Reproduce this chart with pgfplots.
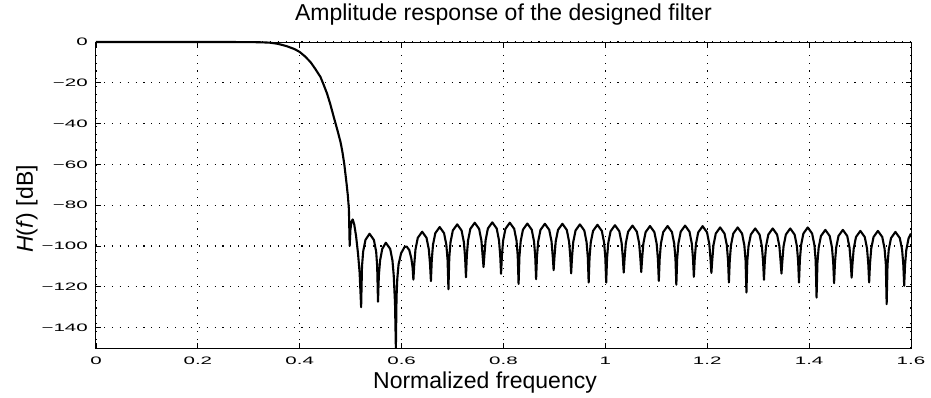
\documentclass[border=0pt]{standalone}
\usepackage{fontspec}
\setmainfont{Liberation Sans}
\newfontfamily\tickfont[FakeStretch=1.9]{Liberation Sans}
\usepackage{pgfplots}
\pgfplotsset{compat=1.18}
\begin{document}
\begin{tikzpicture}
\useasboundingbox (-96pt,-49pt) rectangle (835pt,348pt);
\begin{axis}[
  at={(0pt,0pt)}, anchor=south west,
  scale only axis, width=815pt, height=306pt,
  xmin=0, xmax=1.6, ymin=-150, ymax=0,
  clip=false,
  xtick={0,0.2,0.4,0.6,0.8,1,1.2,1.4,1.6},
  xticklabels={0,0.2,0.4,0.6,0.8,1,1.2,1.4,1.6},
  ytick={-140,-120,-100,-80,-60,-40,-20,0},
  yticklabels={−140,−120,−100,−80,−60,−40,−20,0},
  tick align=inside, major tick length=5pt,
  tick style={black, line width=0.8pt},
  axis line style={line width=1pt},
  grid=major,
  major grid style={black, line width=1.1pt, dash pattern=on 1.1pt off 6.8pt},
  xticklabel style={font={\tickfont\fontsize{10.8}{12}\selectfont}, anchor=base, inner sep=0pt, yshift=-16pt},
  yticklabel style={font={\tickfont\fontsize{10.8}{12}\selectfont}, anchor=east, inner sep=0pt, xshift=-8pt},
]
\addplot[black, line width=2.1pt, line join=round, mark=none] coordinates {
(0,0) (0.05,0) (0.1,0) (0.15,0) (0.2,0) (0.25,0) (0.3,-0.05) (0.32,-0.12) (0.34,-0.3) (0.355,-0.8) (0.365,-1.4) (0.375,-2.1) (0.39,-3.5) (0.40,-4.9) (0.41,-7.0) (0.421,-9.8) (0.43,-13.0) (0.4406,-17.1) (0.447,-21.0) (0.4536,-25.3) (0.46,-30.5) (0.4667,-36.7) (0.4737,-43.0) (0.48,-49.0) (0.4835,-53.5) (0.4874,-59.8) (0.492,-69.6) (0.4945,-75.5) (0.4965,-82) (0.498,-100) (0.4995,-92) (0.5015,-88) (0.504,-87) (0.507,-89.5) (0.5105,-95) (0.5145,-104) (0.5175,-113)
(0.5205,-130) (0.5222,-110) (0.5245,-102.7) (0.529,-97) (0.537,-94) (0.5455,-97) (0.55,-102.7) (0.552,-110)
(0.5536,-127.3) (0.5553,-114.5) (0.5577,-107.1) (0.562,-101.4) (0.569,-98.4) (0.5775,-101.4) (0.582,-107.1) (0.5845,-114.5) (0.5870,-128)
(0.5887,-150) (0.5900,-125) (0.5915,-116) (0.5940,-109) (0.5990,-103.5) (0.6060,-100.4) (0.6100,-100.3) (0.6150,-102) (0.6190,-106) (0.6215,-110.5)
(0.6231,-116.5) (0.6248,-109.1) (0.6272,-101.7) (0.6317,-96.0) (0.6403,-93.0) (0.6489,-96.0) (0.6534,-101.7) (0.6558,-109.1)
(0.6575,-117.2) (0.6592,-106.8) (0.6616,-99.4) (0.6661,-93.7) (0.6747,-90.7) (0.6833,-93.7) (0.6878,-99.4) (0.6902,-106.8)
(0.6919,-121.2) (0.6936,-105.5) (0.6960,-98.1) (0.7005,-92.4) (0.7091,-89.4) (0.7177,-92.4) (0.7222,-98.1) (0.7246,-105.5)
(0.7263,-115.3) (0.7280,-104.7) (0.7304,-97.3) (0.7349,-91.6) (0.7435,-88.6) (0.7521,-91.6) (0.7566,-97.3) (0.7590,-104.7)
(0.7608,-110.3) (0.7625,-104.5) (0.7649,-97.1) (0.7694,-91.4) (0.7780,-88.4) (0.7866,-91.4) (0.7911,-97.1) (0.7935,-104.5)
(0.7952,-113.6) (0.7969,-104.7) (0.7993,-97.3) (0.8038,-91.6) (0.8124,-88.6) (0.8210,-91.6) (0.8255,-97.3) (0.8279,-104.7)
(0.8296,-118.6) (0.8313,-105.1) (0.8337,-97.7) (0.8382,-92.0) (0.8468,-89.0) (0.8554,-92.0) (0.8599,-97.7) (0.8623,-105.1)
(0.8640,-116.3) (0.8657,-105.2) (0.8681,-97.8) (0.8726,-92.1) (0.8812,-89.1) (0.8898,-92.1) (0.8943,-97.8) (0.8967,-105.2)
(0.8984,-111.8) (0.9001,-105.2) (0.9025,-97.8) (0.9070,-92.1) (0.9156,-89.1) (0.9242,-92.1) (0.9287,-97.8) (0.9311,-105.2)
(0.9328,-113.4) (0.9345,-105.5) (0.9369,-98.1) (0.9414,-92.4) (0.9500,-89.4) (0.9586,-92.4) (0.9631,-98.1) (0.9655,-105.5)
(0.9672,-117.9) (0.9689,-105.7) (0.9713,-98.3) (0.9758,-92.6) (0.9844,-89.6) (0.9930,-92.6) (0.9975,-98.3) (0.9999,-105.7)
(1.0016,-117.9) (1.0033,-105.9) (1.0057,-98.5) (1.0102,-92.8) (1.0188,-89.8) (1.0274,-92.8) (1.0319,-98.5) (1.0343,-105.9)
(1.0360,-113.0) (1.0377,-106.1) (1.0401,-98.7) (1.0446,-93.0) (1.0532,-90.0) (1.0618,-93.0) (1.0663,-98.7) (1.0687,-106.1)
(1.0704,-112.8) (1.0721,-106.3) (1.0745,-98.9) (1.0790,-93.2) (1.0876,-90.2) (1.0962,-93.2) (1.1007,-98.9) (1.1031,-106.3)
(1.1049,-117.1) (1.1066,-106.3) (1.1090,-98.9) (1.1135,-93.2) (1.1221,-90.2) (1.1307,-93.2) (1.1352,-98.9) (1.1376,-106.3)
(1.1393,-119.0) (1.1410,-106.1) (1.1434,-98.7) (1.1479,-93.0) (1.1565,-90.0) (1.1651,-93.0) (1.1696,-98.7) (1.1720,-106.1)
(1.1737,-115.1) (1.1754,-106.4) (1.1778,-99.0) (1.1823,-93.3) (1.1909,-90.3) (1.1995,-93.3) (1.2040,-99.0) (1.2064,-106.4)
(1.2081,-113.2) (1.2098,-107.0) (1.2122,-99.6) (1.2167,-93.9) (1.2253,-90.9) (1.2339,-93.9) (1.2384,-99.6) (1.2408,-107.0)
(1.2425,-117.9) (1.2442,-107.0) (1.2466,-99.6) (1.2511,-93.9) (1.2597,-90.9) (1.2683,-93.9) (1.2728,-99.6) (1.2752,-107.0)
(1.2769,-122.8) (1.2786,-107.5) (1.2810,-100.1) (1.2855,-94.4) (1.2941,-91.4) (1.3027,-94.4) (1.3072,-100.1) (1.3096,-107.5)
(1.3113,-116.6) (1.3130,-107.5) (1.3154,-100.1) (1.3199,-94.4) (1.3285,-91.4) (1.3371,-94.4) (1.3416,-100.1) (1.3440,-107.5)
(1.3457,-113.5) (1.3474,-107.5) (1.3498,-100.1) (1.3543,-94.4) (1.3629,-91.4) (1.3715,-94.4) (1.3760,-100.1) (1.3784,-107.5)
(1.3801,-117.9) (1.3818,-107.0) (1.3842,-99.6) (1.3887,-93.9) (1.3973,-90.9) (1.4059,-93.9) (1.4104,-99.6) (1.4128,-107.0)
(1.4146,-125.3) (1.4163,-108.2) (1.4187,-100.8) (1.4232,-95.1) (1.4318,-92.1) (1.4404,-95.1) (1.4449,-100.8) (1.4473,-108.2)
(1.4490,-118.2) (1.4507,-108.2) (1.4531,-100.8) (1.4576,-95.1) (1.4662,-92.1) (1.4748,-95.1) (1.4793,-100.8) (1.4817,-108.2)
(1.4834,-115.5) (1.4851,-108.7) (1.4875,-101.3) (1.4920,-95.6) (1.5006,-92.6) (1.5092,-95.6) (1.5137,-101.3) (1.5161,-108.7)
(1.5178,-117.9) (1.5195,-108.7) (1.5219,-101.3) (1.5264,-95.6) (1.5350,-92.6) (1.5436,-95.6) (1.5481,-101.3) (1.5505,-108.7)
(1.5522,-128.5) (1.5539,-109.2) (1.5563,-101.8) (1.5608,-96.1) (1.5694,-93.1) (1.5780,-96.1) (1.5825,-101.8) (1.5849,-109.2)
(1.5866,-119.5) (1.5883,-109.4) (1.5907,-102.0) (1.5952,-96.3) (1.6000,-93.9)
};
\end{axis}
\node[anchor=base, font={\fontsize{23}{27}\selectfont}] at (407.5pt,327pt) {Amplitude response of the designed filter};
\node[anchor=base, font={\fontsize{23}{27}\selectfont}] at (389pt,-40pt) {Normalized frequency};
\node[anchor=base, rotate=90, font={\fontsize{23}{27}\selectfont}] at (-63pt,139pt) {\textit{H}(\textit{f}) [dB]};
\end{tikzpicture}
\end{document}
